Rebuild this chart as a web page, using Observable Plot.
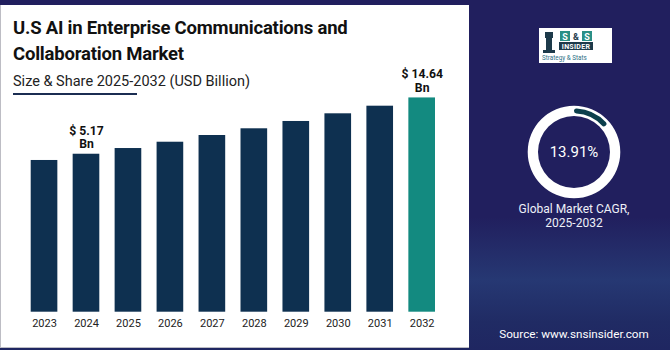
<!DOCTYPE html>
<html><head><meta charset="utf-8">
<script src="https://cdn.jsdelivr.net/npm/d3@7"></script>
<script src="https://cdn.jsdelivr.net/npm/@observablehq/plot@0.6"></script>
<style>
html,body{margin:0;padding:0;}
body{width:670px;height:350px;overflow:hidden;font-family:Roboto,"Noto Sans",sans-serif;}
#wrap{position:relative;width:670px;height:350px;background:linear-gradient(to bottom,#211f5e 0%,#211f5e 62%,#263873 80%,#202b64 92%,#1f2661 100%);overflow:hidden;}
#panel{position:absolute;left:0;top:5px;width:469px;height:343px;background:#fff;box-sizing:border-box;border-left:1.5px solid #bdbdc4;border-bottom:1.5px solid #bdbdc4;}
#title{position:absolute;left:13px;top:15px;font-weight:700;font-size:18.5px;line-height:26px;color:#111;letter-spacing:-0.2px;}
#sub{position:absolute;left:13px;top:73px;font-size:14.5px;color:#222;}
#uline{position:absolute;left:13px;top:93px;width:124px;height:2px;background:#1b2d52;}
#chart{position:absolute;left:0;top:60px;}
#donut{position:absolute;left:0;top:0;}
.rt{position:absolute;color:#eef0f8;text-align:center;}
#logo{position:absolute;left:539px;top:28px;width:73px;height:35px;background:#fff;}
</style></head>
<body><div id="wrap">
<div id="panel"></div>
<div id="title">U.S AI in Enterprise Communications and<br>Collaboration Market</div>
<div id="sub">Size &amp; Share 2025-2032 (USD Billion)</div>
<div id="uline"></div>
<div id="chart"></div>
<svg id="donut" width="670" height="350"></svg>
<div id="logo">
  <svg width="73" height="35">
    <rect x="6" y="4" width="8" height="6" fill="#1d3a4a"/>
    <rect x="7" y="10" width="6" height="12" fill="#1d3a4a"/>
    <rect x="4" y="22" width="12" height="3" fill="#1d3a4a"/>
    <rect x="21" y="3" width="10" height="10" fill="#2a8f86"/>
    <rect x="43" y="3" width="10" height="10" fill="#2a8f86"/>
    <text x="26" y="11.5" font-size="9" font-weight="700" fill="#fff" text-anchor="middle">S</text>
    <text x="37" y="11.5" font-size="9" font-weight="700" fill="#1d3a4a" text-anchor="middle">&amp;</text>
    <text x="48" y="11.5" font-size="9" font-weight="700" fill="#fff" text-anchor="middle">S</text>
    <rect x="20" y="14" width="34" height="8" fill="#1d3a4a"/>
    <text x="37" y="20.8" font-size="7" font-weight="700" fill="#fff" text-anchor="middle" letter-spacing="0.3">INSIDER</text>
    <text x="3" y="32" font-size="6.3" fill="#2a6f86">Strategy &amp; Stats</text>
  </svg>
</div>
<div class="rt" style="left:474px;top:202px;width:200px;font-size:12px;line-height:14px;">Global Market CAGR,<br>2025-2032</div>
<div class="rt" style="left:474px;top:327px;width:200px;font-size:11.7px;color:#fff;">Source: www.snsinsider.com</div>
</div>
<script>
const years = ["2023","2024","2025","2026","2027","2028","2029","2030","2031","2032"];
const values = [4.12, 5.17, 6.13, 7.19, 8.32, 9.45, 10.68, 11.97, 13.25, 14.64];
const labels = ["", "$ 5.17\nBn", "", "", "", "", "", "", "", "$ 14.64\nBn"];
const cagr = 13.91;
const cagrLabel = "13.91%";

const yBase = -21.4;
const data = years.map((y, i) => ({year: y, value: values[i], label: labels[i], hi: y === "2032"}));

const chart = Plot.plot({
  width: 470, height: 280,
  marginLeft: 30.7, marginRight: 35, marginTop: 10, marginBottom: 28.3,
  style: {fontFamily: "Roboto, sans-serif", background: "transparent", overflow: "visible"},
  x: {domain: years, paddingInner: 0.365, paddingOuter: 0, round: false, label: null},
  y: {domain: [yBase, yBase + 241.7 * 0.1682], axis: null},
  color: {domain: [false, true], range: ["#0e3050", "#138a80"]},
  marks: [
    Plot.rectY(data, {x: "year", y1: () => yBase, y2: "value", fill: "hi"}),
    Plot.axisX({tickSize: 0, tickPadding: 6.5, fontSize: 11, color: "#222", stroke: null, label: null}),
    Plot.text(data.filter(d => d.label), {x: "year", y: "value", text: "label", lineAnchor: "bottom", dy: -6, fontSize: 12.2, fontWeight: 700, fill: "#111", lineHeight: 1.12})
  ]
});
document.getElementById("chart").appendChild(chart);

// donut
const svg = d3.select("#donut");
const g = svg.append("g").attr("transform", "translate(574,152)");
g.append("path").attr("d", d3.arc()({innerRadius: 36, outerRadius: 46.3, startAngle: 0, endAngle: 2 * Math.PI})).attr("fill", "#fff");
g.append("path").attr("d", d3.arc().cornerRadius(2.6)({innerRadius: 38.5, outerRadius: 43.7, startAngle: 0, endAngle: cagr / 100 * 2 * Math.PI})).attr("fill", "#0c3f4c");
g.append("text").attr("text-anchor", "middle").attr("dy", "0.36em").attr("fill", "#fff").attr("font-size", 15).attr("font-family", "Roboto, sans-serif").text(cagrLabel);
</script>
</body></html>
